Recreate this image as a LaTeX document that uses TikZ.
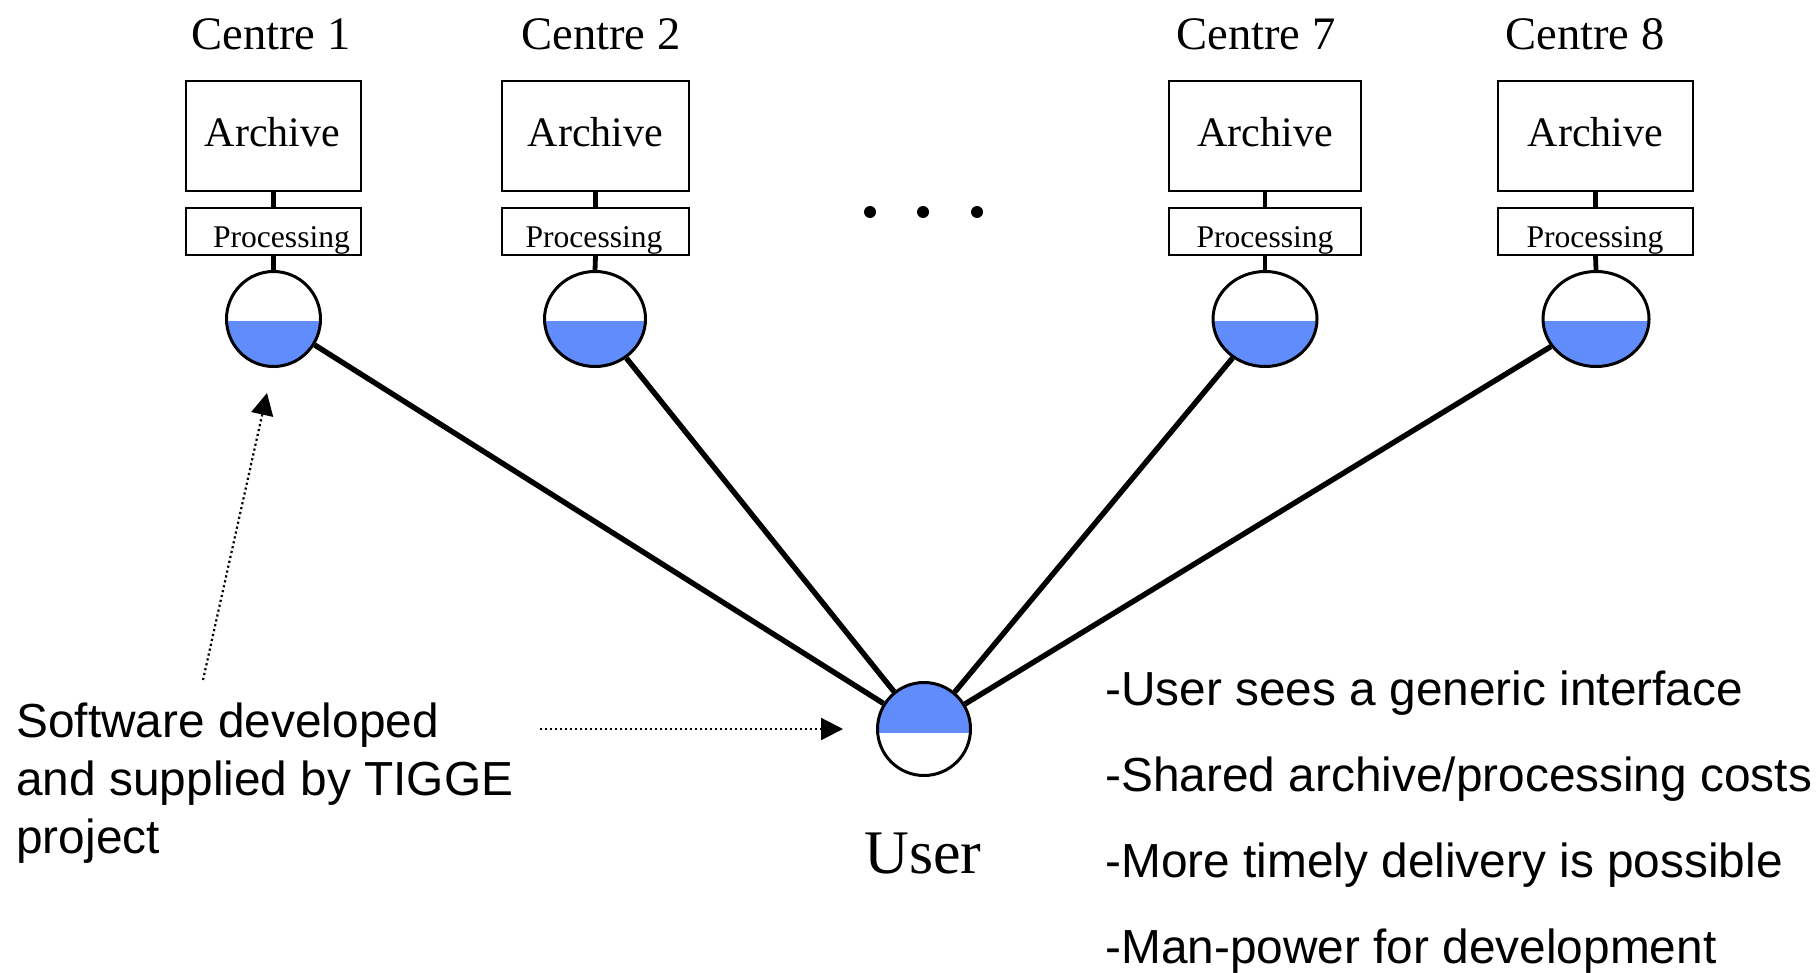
\documentclass[tikz,border=0pt]{standalone}
\usepackage{fontspec}
\setmainfont{Liberation Serif}
\newfontfamily\arialf{Liberation Sans}
\usetikzlibrary{shapes.geometric,arrows.meta}
\definecolor{ublue}{RGB}{97,141,252}
\begin{document}
\begin{tikzpicture}[x=0.5pt,y=-0.5pt,
  box/.style={draw,line width=1pt,inner sep=0pt},
  arch/.style={box,minimum height=55pt},
  proc/.style={box,minimum height=23.5pt},
  cl/.style={font=\fontsize{23.3pt}{28pt}\selectfont,anchor=base,inner sep=0pt},
  al/.style={font=\fontsize{21pt}{25pt}\selectfont,anchor=base,inner sep=0pt},
  pl/.style={font=\fontsize{15.8pt}{19pt}\selectfont,anchor=base,inner sep=0pt},
  sl/.style={font=\arialf\fontsize{23.9pt}{28pt}\selectfont,anchor=base west,inner sep=0pt},
  site/.style={ellipse,draw,line width=1.5pt,inner sep=0pt,minimum height=47.5pt,
    path picture={\fill[ublue] ([yshift=-1pt]path picture bounding box.west) rectangle (path picture bounding box.south east);}},
  usr/.style={ellipse,draw,line width=1.5pt,inner sep=0pt,minimum height=46.5pt,minimum width=46.5pt,
    path picture={\fill[ublue] (path picture bounding box.north west) rectangle ([yshift=-2pt]path picture bounding box.east);}},
  stub/.style={line width=2.4pt},
  conn/.style={line width=2.7pt},
  dotarrow/.style={line width=1.1pt,dash pattern=on 1.1pt off 1.4pt,-{Triangle[length=11pt,width=11pt]}},
  dotn/.style={circle,fill,inner sep=0pt,minimum size=6pt}
]
\fill[white] (0,0) rectangle (1818,973);
\useasboundingbox (0,0) rectangle (1818,973);

% Centre 1
\node[cl] (l1) at (271,50) {Centre 1};
\node[arch,minimum width=87.5pt] (a1) at (273.5,136) {};
\node[proc,minimum width=87.5pt] (p1) at (273.5,231.5) {};
\node[al] (at1) at (272.5,147) {Archive};
\node[pl] (pt1) at (281.5,248) {Processing};
\node[site,minimum width=47pt] (e1) at (273.5,319) {};
% Centre 2
\node[cl] (l2) at (601,50) {Centre 2};
\node[arch,minimum width=93.5pt] (a2) at (595.5,136) {};
\node[proc,minimum width=93.5pt] (p2) at (595.5,231.5) {};
\node[al] (at2) at (595.5,147) {Archive};
\node[pl] (pt2) at (594,248) {Processing};
\node[site,minimum width=50.5pt] (e2) at (595,319) {};
% Centre 7
\node[cl] (l7) at (1256,50) {Centre 7};
\node[arch,minimum width=96pt] (a7) at (1265,136) {};
\node[proc,minimum width=96pt] (p7) at (1265,231.5) {};
\node[al] (at7) at (1265,147) {Archive};
\node[pl] (pt7) at (1265,248) {Processing};
\node[site,minimum width=52pt] (e7) at (1265,319) {};
% Centre 8
\node[cl] (l8) at (1585,50) {Centre 8};
\node[arch,minimum width=97.5pt] (a8) at (1595.5,136) {};
\node[proc,minimum width=97.5pt] (p8) at (1595.5,231.5) {};
\node[al] (at8) at (1595.5,147) {Archive};
\node[pl] (pt8) at (1595,248) {Processing};
\node[site,minimum width=53pt] (e8) at (1596,319) {};

\foreach \i in {1,2,7,8}{
  \draw[stub] (a\i.south) -- (p\i.north);
  \draw[stub] (p\i.south) -- (e\i.north);
}

% dots
\node[dotn] (d1) at (870,212) {};
\node[dotn] (d2) at (923,212) {};
\node[dotn] (d3) at (977,212) {};

% user
\node[usr] (u) at (924,729) {};
\node[font=\fontsize{31pt}{36pt}\selectfont,anchor=base,inner sep=0pt] (ul) at (923,873) {User};

\draw[conn] (e1) -- (u);
\draw[conn] (e2) -- (u);
\draw[conn] (e7) -- (u);
\draw[conn] (e8) -- (u);

% left note
\node[sl] (s1) at (16,737) {Software developed};
\node[sl] (s2) at (16,795) {and supplied by TIGGE};
\node[sl] (s3) at (16,853) {project};
\coordinate (fa) at (203,680);
\coordinate (ta) at (267,393);
\coordinate (fb) at (540,729);
\coordinate (tb) at (843,729);
\draw[dotarrow] (fa) -- (ta);
\draw[dotarrow] (fb) -- (tb);

% right notes
\node[sl] (r1) at (1105,705) {-User sees a generic interface};
\node[sl] (r2) at (1105,791) {-Shared archive/processing costs};
\node[sl] (r3) at (1105,877) {-More timely delivery is possible};
\node[sl] (r4) at (1105,963) {-Man-power for development};
\end{tikzpicture}
\end{document}
